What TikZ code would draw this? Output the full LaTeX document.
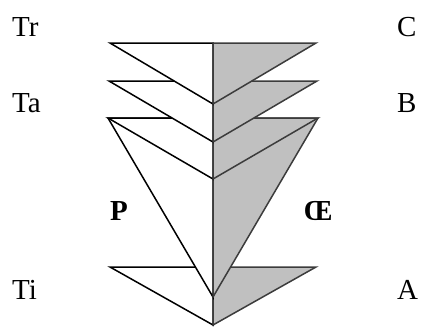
\documentclass[tikz,border=0pt]{standalone}
\usepackage{fontspec}
\setmainfont{Liberation Serif}
\usepackage{tikz}
\usetikzlibrary{positioning}
\definecolor{shadeR}{RGB}{192, 192, 192}
\definecolor{edgeR}{RGB}{60, 60, 60}

\begin{document}
\begin{tikzpicture}[x=1pt, y=-1pt,
    lefthalf/.style={fill=white, draw=black, line width=1.5pt, line join=miter},
    righthalf/.style={fill=shadeR, draw=edgeR, line width=1.5pt, line join=miter},
    lbl/.style={font=\fontsize{29}{34}\selectfont, inner sep=0pt},
    blbl/.style={lbl, font=\fontsize{29}{34}\selectfont\bfseries}]
  \useasboundingbox (0,0) rectangle (424,327);
  % chevrons, drawn from the bottom one up
  \foreach \top/\half/\apex in {267/103/325, 118/105/297, 118/105/179, 81/104/142, 43/103/104}{
    \filldraw[lefthalf] (213-\half,\top) -- (213,\top) -- (213,\apex) -- cycle;
    \filldraw[righthalf] (213,\top) -- (213+\half,\top) -- (213,\apex) -- cycle;
  }
  % labels
  \node[lbl, anchor=west] (tr) at (12,27) {Tr};
  \node[lbl, anchor=west] (ta) at (12,103) {Ta};
  \node[lbl, anchor=west] (ti) at (12,290) {Ti};
  \node[lbl, anchor=west] (c) at (397,27) {C};
  \node[lbl, anchor=west] (b) at (397,103) {B};
  \node[lbl, anchor=west] (a) at (397,290) {A};
  \node[blbl] (p) at (119,211) {P};
  \node[blbl] (oe) at (318,211) {Œ};
\end{tikzpicture}
\end{document}
